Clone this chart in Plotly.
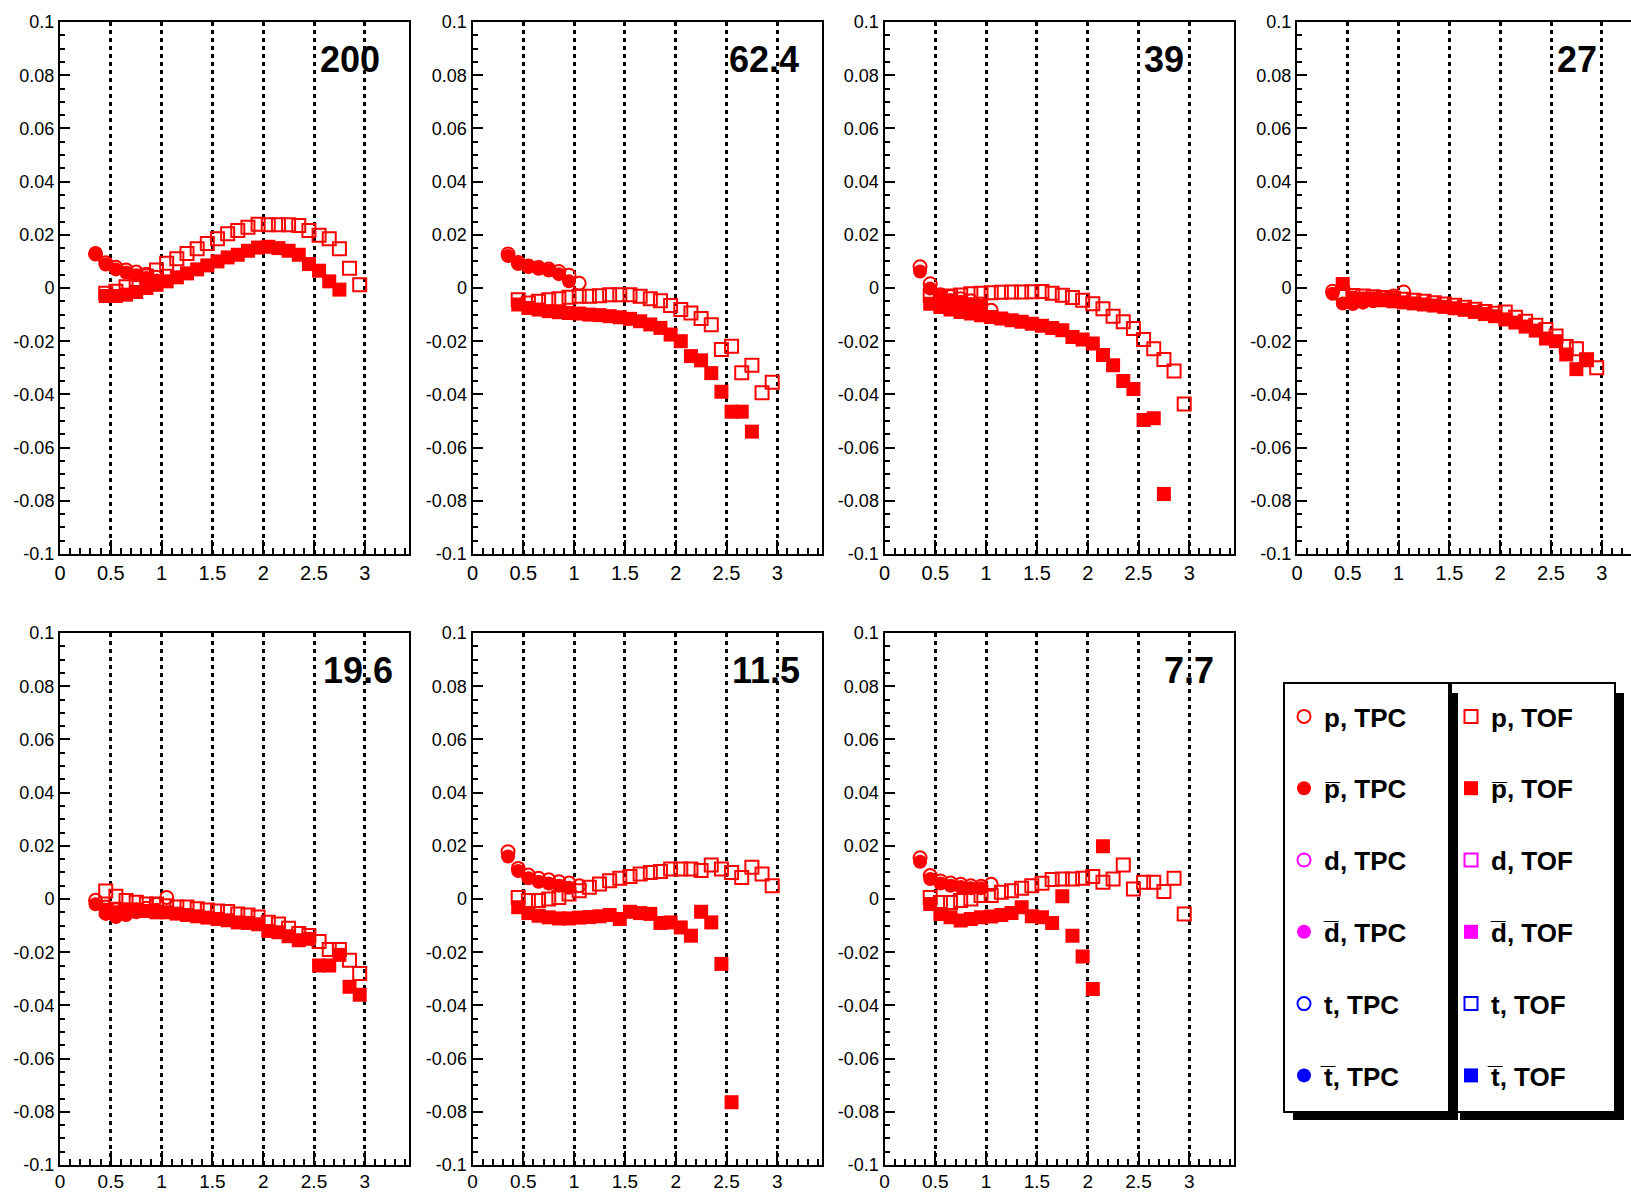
import plotly.graph_objects as go

# ---------------- data ----------------
energies = ["200", "62.4", "39", "27", "19.6", "11.5", "7.7"]

pt_tpc = [0.35, 0.45, 0.55, 0.65, 0.75, 0.85, 0.95, 1.05]
pt_tof = [0.45, 0.55, 0.65, 0.75, 0.85, 0.95, 1.05, 1.15, 1.25, 1.35, 1.45, 1.55, 1.65,
          1.75, 1.85, 1.95, 2.05, 2.15, 2.25, 2.35, 2.45, 2.55, 2.65, 2.75, 2.85, 2.95]

# 200 GeV
p_tpc_200 = [0.0128, 0.0095, 0.0078, 0.0068, 0.006, 0.0052, 0.004]
pbar_tpc_200 = [0.0132, 0.0088, 0.007, 0.0058, 0.0048, 0.0038, 0.0028]
p_tof_200 = [-0.002, -0.0012, 0.0005, 0.0025, 0.0045, 0.0068, 0.0093, 0.011, 0.013, 0.0148,
             0.0167, 0.0185, 0.0204, 0.0216, 0.0228, 0.024, 0.0238, 0.0238, 0.0238, 0.0235,
             0.0216, 0.0198, 0.0185, 0.0148, 0.0074, 0.0012]
pbar_tof_200 = [-0.003, -0.003, -0.0025, -0.0015, 0.0, 0.0012, 0.0025, 0.004, 0.0055, 0.007,
                0.0085, 0.010, 0.0115, 0.0125, 0.014, 0.0152, 0.0155, 0.015, 0.014, 0.0125,
                0.009, 0.0065, 0.0025, -0.0006]

# 62.4 GeV
p_tpc_62 = [0.0128, 0.0096, 0.0083, 0.0077, 0.0071, 0.0062, 0.0048, 0.0018]
pbar_tpc_62 = [0.0120, 0.0090, 0.0079, 0.0072, 0.0066, 0.0052, 0.0025]
p_tof_62 = [-0.0044, -0.0056, -0.005, -0.0044, -0.004, -0.0035, -0.0031, -0.0031, -0.0029,
            -0.0025, -0.0025, -0.0025, -0.0031, -0.004, -0.0048, -0.0066, -0.0081, -0.0094,
            -0.0115, -0.0138, -0.0231, -0.0219, -0.0319, -0.029, -0.0394, -0.0354]
pbar_tof_62 = [-0.0062, -0.0075, -0.0081, -0.0087, -0.0091, -0.0094, -0.0096, -0.010, -0.0102,
               -0.0106, -0.011, -0.0116, -0.0125, -0.0137, -0.015, -0.0175, -0.020, -0.0256,
               -0.0272, -0.032, -0.039, -0.0465, -0.0465, -0.054]

# 39 GeV
p_tpc_39 = [0.008, 0.0016, -0.0025, -0.0032, -0.004, -0.0048, -0.006, -0.0084]
pbar_tpc_39 = [0.0062, -0.0002, -0.0036, -0.0045, -0.0052, -0.006, -0.0068]
p_tof_39 = [-0.0027, -0.0033, -0.003, -0.0026, -0.0022, -0.002, -0.0018, -0.0016, -0.0015,
            -0.0015, -0.0014, -0.0013, -0.002, -0.0027, -0.0036, -0.0046, -0.0059, -0.0078,
            -0.0106, -0.0127, -0.0152, -0.0194, -0.0228, -0.0269, -0.0312, -0.0436]
pbar_tof_39 = [-0.0059, -0.0071, -0.0081, -0.009, -0.0096, -0.0102, -0.0109, -0.0115, -0.0121,
               -0.0127, -0.0134, -0.0142, -0.015, -0.0159, -0.0184, -0.0194, -0.0209, -0.0252,
               -0.029, -0.035, -0.038, -0.0496, -0.049, -0.0774]

# 27 GeV
p_tpc_27 = [-0.0012, -0.003, -0.0038, -0.004, -0.004, -0.0038, -0.003, -0.0015]
pbar_tpc_27 = [-0.0022, -0.0058, -0.006, -0.0055, -0.005, -0.0045, -0.0042]
p_tof_27 = [-0.002, -0.0028, -0.003, -0.0033, -0.0036, -0.0039, -0.0042, -0.0046, -0.005,
            -0.0055, -0.006, -0.0065, -0.0072, -0.008, -0.0088, -0.0095, -0.009, -0.011,
            -0.0125, -0.014, -0.0156, -0.018, -0.022, -0.0228, -0.027, -0.030]
pbar_tof_27 = [0.0015, -0.0042, -0.0042, -0.0043, -0.0046, -0.005, -0.0054, -0.0058, -0.0062,
               -0.0066, -0.0071, -0.0076, -0.0082, -0.009, -0.0098, -0.0106, -0.0118, -0.013,
               -0.0145, -0.016, -0.019, -0.020, -0.025, -0.0305, -0.027]

# 19.6 GeV
p_tpc_19 = [-0.0005, -0.003, -0.004, -0.004, -0.004, -0.0035, -0.002, 0.0006]
pbar_tpc_19 = [-0.002, -0.0056, -0.0068, -0.006, -0.005, -0.0045, -0.004]
p_tof_19 = [0.003, 0.001, -0.0006, -0.0012, -0.0019, -0.0019, -0.0025, -0.003, -0.003,
            -0.0037, -0.0041, -0.0045, -0.0047, -0.0056, -0.006, -0.0068, -0.0087, -0.0094,
            -0.011, -0.013, -0.0137, -0.016, -0.019, -0.019, -0.023, -0.028]
pbar_tof_19 = [-0.004, -0.005, -0.004, -0.004, -0.0045, -0.005, -0.005, -0.0055, -0.006,
               -0.0065, -0.007, -0.0075, -0.008, -0.0088, -0.009, -0.0095, -0.012, -0.0125,
               -0.014, -0.0155, -0.015, -0.025, -0.025, -0.021, -0.033, -0.036]

# 11.5 GeV
p_tpc_11 = [0.0178, 0.0115, 0.009, 0.0078, 0.0072, 0.0065, 0.006, 0.005]
pbar_tpc_11 = [0.016, 0.0105, 0.0078, 0.0065, 0.0058, 0.005, 0.0042]
p_tof_11 = [0.0006, -0.0006, -0.0006, 0.0, 0.0006, 0.0019, 0.0031, 0.0044, 0.0056, 0.0069,
            0.0078, 0.0085, 0.0094, 0.010, 0.0103, 0.0113, 0.0113, 0.0113, 0.0107, 0.0128,
            0.0113, 0.010, 0.0081, 0.0119, 0.0094, 0.005]
pbar_tof_11 = [-0.0031, -0.0053, -0.0063, -0.0069, -0.0073, -0.0073, -0.007, -0.0068, -0.0065,
               -0.006, -0.0075, -0.0048, -0.0053, -0.0056, -0.009, -0.0088, -0.0107, -0.0138,
               -0.0048, -0.0088, -0.0244, -0.0764]

# 7.7 GeV
p_tpc_7 = [0.0155, 0.0088, 0.0068, 0.006, 0.0055, 0.005, 0.0048, 0.0055]
pbar_tpc_7 = [0.014, 0.0075, 0.0058, 0.005, 0.0045, 0.004, 0.004]
p_tof_7 = [0.0006, -0.0013, -0.0013, -0.0006, 0.0, 0.0013, 0.0013, 0.0025, 0.0031, 0.004,
           0.005, 0.0059, 0.0073, 0.0075, 0.0075, 0.0078, 0.0085, 0.0063, 0.0075, 0.0128,
           0.0038, 0.0063, 0.0063, 0.0028, 0.0078, -0.0056]
pbar_tof_7 = [-0.0019, -0.0056, -0.0069, -0.0081, -0.0075, -0.0069, -0.0066, -0.006, -0.0053,
              -0.0031, -0.0065, -0.0069, -0.009, 0.001, -0.0138, -0.0216, -0.0338, 0.0198]

p_tpc = [p_tpc_200, p_tpc_62, p_tpc_39, p_tpc_27, p_tpc_19, p_tpc_11, p_tpc_7]
pbar_tpc = [pbar_tpc_200, pbar_tpc_62, pbar_tpc_39, pbar_tpc_27, pbar_tpc_19, pbar_tpc_11, pbar_tpc_7]
p_tof = [p_tof_200, p_tof_62, p_tof_39, p_tof_27, p_tof_19, p_tof_11, p_tof_7]
pbar_tof = [pbar_tof_200, pbar_tof_62, pbar_tof_39, pbar_tof_27, pbar_tof_19, pbar_tof_11, pbar_tof_7]

x_tickvals = [0, 0.5, 1, 1.5, 2, 2.5, 3]
x_ticktext = ["0", "0.5", "1", "1.5", "2", "2.5", "3"]
y_tickvals = [-0.1, -0.08, -0.06, -0.04, -0.02, 0, 0.02, 0.04, 0.06, 0.08, 0.1]
y_ticktext = ["-0.1", "-0.08", "-0.06", "-0.04", "-0.02", "0", "0.02", "0.04", "0.06", "0.08", "0.1"]

# ---------------- layout / style ----------------
W, H = 1631, 1194
FONT = "Liberation Sans, Arial, Helvetica, sans-serif"
RED, MAG, BLUE = "#ff0000", "#ff00ff", "#0000ff"
PX_PER_UNIT = 101.6
col_left = [60, 472.5, 884.5, 1297]
panel_w = 349
row_top = [22, 633]
row_bot = [554, 1165]
xlab_size = [20, 19]
xlab_standoff = [0, -2]
label_x = [2.54, 2.50, 2.53, 2.54, 2.57, 2.53, 2.73]
label_y = 0.086
FILLED_SIZE, OPEN_SIZE = 14, 13

fig = go.Figure()
layout_axes = {}
annotations = []

for i in range(7):
    row, col = (0, i) if i < 4 else (1, i - 4)
    sfx = "" if i == 0 else str(i + 1)
    xa, ya = "x" + sfx, "y" + sfx
    left = col_left[col]
    right = min(left + panel_w, W)
    xmax = (right - left) / PX_PER_UNIT
    layout_axes["xaxis" + sfx] = dict(
        domain=[left / W, right / W], range=[0, xmax], anchor=ya, automargin=False,
        showline=True, linecolor="black", linewidth=2, mirror=True,
        ticks="inside", ticklen=14, tickwidth=1.5, tickcolor="black",
        tickmode="array", tickvals=x_tickvals, ticktext=x_ticktext,
        tickfont=dict(family=FONT, size=xlab_size[row], color="black"),
        ticklabelstandoff=xlab_standoff[row],
        showgrid=True, gridcolor="black", gridwidth=2.5, griddash="4px,4px",
        zeroline=False, fixedrange=True,
        minor=dict(ticks="inside", ticklen=6, tickwidth=1.5, tickcolor="black",
                   dtick=0.1, tick0=0, showgrid=False),
    )
    layout_axes["yaxis" + sfx] = dict(
        domain=[1 - row_bot[row] / H, 1 - row_top[row] / H], range=[-0.1, 0.1], anchor=xa,
        automargin=False,
        showline=True, linecolor="black", linewidth=2, mirror=(col != 3),
        ticks="inside", ticklen=10, tickwidth=1.5, tickcolor="black",
        tickmode="array", tickvals=y_tickvals, ticktext=y_ticktext,
        tickfont=dict(family=FONT, size=18, color="black"),
        showgrid=False, zeroline=False, fixedrange=True,
        minor=dict(ticks="inside", ticklen=5, tickwidth=1.5, tickcolor="black",
                   dtick=0.005, tick0=0, showgrid=False),
    )
    show = (i == 0)
    fig.add_trace(go.Scatter(
        x=pt_tof[:len(pbar_tof[i])], y=pbar_tof[i], mode="markers", xaxis=xa, yaxis=ya,
        marker=dict(symbol="square", size=FILLED_SIZE, color=RED, line=dict(width=0)),
        name="p\u0305, TOF", legend="legend2", legendgroup="pbar_tof", legendrank=2,
        showlegend=show))
    fig.add_trace(go.Scatter(
        x=pt_tof[:len(p_tof[i])], y=p_tof[i], mode="markers", xaxis=xa, yaxis=ya,
        marker=dict(symbol="square-open", size=OPEN_SIZE, color=RED, line=dict(width=2)),
        name="p, TOF", legend="legend2", legendgroup="p_tof", legendrank=1,
        showlegend=show))
    fig.add_trace(go.Scatter(
        x=pt_tpc[:len(pbar_tpc[i])], y=pbar_tpc[i], mode="markers", xaxis=xa, yaxis=ya,
        marker=dict(symbol="circle", size=FILLED_SIZE, color=RED, line=dict(width=0)),
        name="p\u0305, TPC", legend="legend", legendgroup="pbar_tpc", legendrank=2,
        showlegend=show))
    fig.add_trace(go.Scatter(
        x=pt_tpc[:len(p_tpc[i])], y=p_tpc[i], mode="markers", xaxis=xa, yaxis=ya,
        marker=dict(symbol="circle-open", size=OPEN_SIZE, color=RED, line=dict(width=2)),
        name="p, TPC", legend="legend", legendgroup="p_tpc", legendrank=1,
        showlegend=show))
    annotations.append(dict(
        x=label_x[i], y=label_y, xref=xa, yref=ya, xanchor="left", yanchor="middle",
        text="<b>%s</b>" % energies[i], showarrow=False,
        font=dict(family=FONT, size=36, color="black")))

# legend-only entries (no data points in this figure)
extra = [
    ("d, TPC", "circle-open", MAG, "legend", 3), ("d\u0305, TPC", "circle", MAG, "legend", 4),
    ("t, TPC", "circle-open", BLUE, "legend", 5), ("t\u0305, TPC", "circle", BLUE, "legend", 6),
    ("d, TOF", "square-open", MAG, "legend2", 3), ("d\u0305, TOF", "square", MAG, "legend2", 4),
    ("t, TOF", "square-open", BLUE, "legend2", 5), ("t\u0305, TOF", "square", BLUE, "legend2", 6),
]
for name, sym, colr, lg, rank in extra:
    is_open = sym.endswith("open")
    fig.add_trace(go.Scatter(
        x=[None], y=[None], mode="markers", xaxis="x", yaxis="y",
        marker=dict(symbol=sym, size=OPEN_SIZE if is_open else FILLED_SIZE, color=colr,
                    line=dict(width=2 if is_open else 0)),
        name=name, legend=lg, legendgroup=name, legendrank=rank, showlegend=True))

# legend boxes with shadows (ROOT style)
boxes = [(1451, 683, 1615, 1112), (1284, 683, 1449, 1112)]
shapes = []
for (x0, y0, x1, y1) in boxes:
    shapes.append(dict(type="rect", xref="paper", yref="paper",
                       x0=(x0 + 9) / W, x1=(x1 + 9) / W, y0=1 - (y1 + 8) / H, y1=1 - (y0 + 10) / H,
                       fillcolor="black", line=dict(width=0), layer="above"))
    shapes.append(dict(type="rect", xref="paper", yref="paper",
                       x0=x0 / W, x1=x1 / W, y0=1 - y1 / H, y1=1 - y0 / H,
                       fillcolor="white", line=dict(color="black", width=2), layer="above"))

legend_common = dict(
    xanchor="left", yanchor="top", bgcolor="rgba(0,0,0,0)", borderwidth=0,
    font=dict(family=FONT, size=26, color="black", weight="bold"),
    tracegroupgap=35, itemsizing="trace", traceorder="grouped", orientation="v",
)
fig.update_layout(
    width=W, height=H, margin=dict(l=0, r=0, t=0, b=0, autoexpand=False),
    paper_bgcolor="white", plot_bgcolor="white",
    showlegend=True,
    legend=dict(x=1284 / W, y=1 - 693 / H, **legend_common),
    legend2=dict(x=1451 / W, y=1 - 693 / H, **legend_common),
    shapes=shapes, annotations=annotations,
    **layout_axes,
)

fig.write_html("out.html", post_script="document.body.style.margin='0';")
